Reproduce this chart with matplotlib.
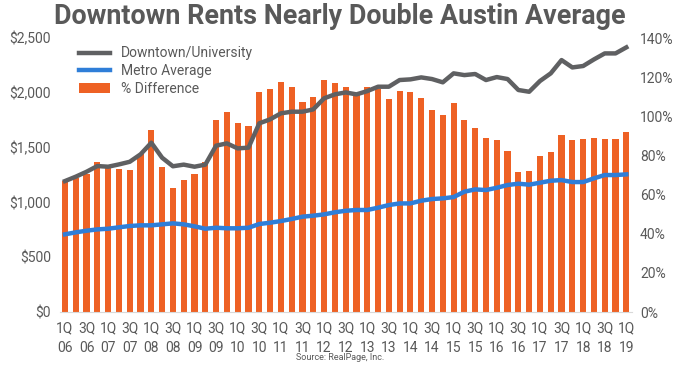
import numpy as np
import matplotlib
matplotlib.use("Agg")
import matplotlib.pyplot as plt
from matplotlib.ticker import FuncFormatter

plt.rcParams['font.family'] = ['Roboto', 'DejaVu Sans']

# quarters 1Q06 .. 1Q19
years = list(range(6, 20))
quarters = [f"{q}Q {y:02d}" for y in years for q in (1, 2, 3, 4)][:53]

downtown = [1195, 1235, 1280, 1332, 1326, 1347, 1371, 1439, 1545, 1408,
            1330, 1345, 1326, 1345, 1518, 1539, 1493, 1500, 1722, 1758,
            1813, 1828, 1828, 1849, 1950, 1986, 2004, 1986, 2016, 2056,
            2056, 2117, 2123, 2141, 2126, 2096, 2178, 2162, 2172, 2117,
            2144, 2126, 2026, 2010, 2108, 2178, 2299, 2232, 2245, 2305,
            2360, 2360, 2415]
metro = [709, 727, 742, 754, 760, 773, 785, 791, 791, 800,
         809, 800, 782, 760, 769, 764, 764, 769, 803, 815,
         830, 849, 870, 879, 891, 910, 924, 931, 931, 952,
         976, 991, 991, 1016, 1031, 1037, 1049, 1098, 1119, 1113,
         1134, 1159, 1171, 1162, 1180, 1198, 1204, 1186, 1186, 1220,
         1250, 1250, 1256]
pct_diff = [67.1, 68.6, 70.4, 76.6, 74.3, 72.9, 72.4, 80.6, 92.8, 74.1,
            63.2, 67.4, 70.5, 76.8, 98.1, 102.2, 96.4, 95.0, 112.6, 114.1,
            117.5, 114.8, 107.3, 109.9, 118.5, 116.8, 115.1, 111.6, 114.8, 113.8,
            108.8, 112.9, 112.2, 109.2, 103.1, 100.7, 106.6, 98.3, 94.0, 88.9,
            88.1, 82.1, 71.7, 72.0, 79.5, 81.8, 90.4, 87.9, 88.4, 88.9,
            88.4, 88.6, 92.0]

text_col = '#595959'
orange = '#EE6124'
gray = '#5F6062'
blue = '#2F7ED8'

x = np.arange(len(downtown))

fig = plt.figure(figsize=(6.8, 3.66), dpi=100)
ax = fig.add_axes([0.0876, 0.1475, 0.8414, 0.7485])
ax2 = ax.twinx()

bars = ax2.bar(x, pct_diff, width=0.57, color=orange, label='% Difference')
l1, = ax.plot(x, downtown, color=gray, lw=3.2, label='Downtown/University')
l2, = ax.plot(x, metro, color=blue, lw=3.2, label='Metro Average')

ax.set_zorder(ax2.get_zorder() + 1)
ax.patch.set_visible(False)

ax.set_xlim(-0.5, len(x) - 0.5)
ax.set_ylim(0, 2500)
ax2.set_ylim(0, 140)
ax.set_yticks(np.arange(0, 2501, 500))
ax2.set_yticks(np.arange(0, 141, 20))
ax.yaxis.set_major_formatter(FuncFormatter(lambda v, p: f"${v:,.0f}"))
ax2.yaxis.set_major_formatter(FuncFormatter(lambda v, p: f"{v:.0f}%"))

ax.set_xticks(x[::2])
ax.set_xticklabels([q.replace(' ', '\n') for q in quarters[::2]])

for a in (ax, ax2):
    for s in a.spines.values():
        s.set_visible(False)
    a.tick_params(length=0, labelsize=10, labelcolor=text_col)
ax.spines['bottom'].set_visible(True)
ax.spines['bottom'].set_color('#D9D9D9')
ax.tick_params(axis='y', pad=6)
ax2.tick_params(axis='y', pad=6)
ax.tick_params(axis='x', pad=7)
for t in ax.get_xticklabels():
    t.set_linespacing(1.5)

leg = ax.legend(handles=[l1, l2, bars], loc='upper left', bbox_to_anchor=(0.02, 1.0),
                frameon=False, fontsize=10, handlelength=2.2, labelspacing=0.28,
                borderaxespad=0.2)
for t in leg.get_texts():
    t.set_color(text_col)

fig.text(0.5, 0.955, 'Downtown Rents Nearly Double Austin Average', ha='center', va='center',
         fontsize=19.4, fontweight='bold', color=text_col)
fig.text(0.5, 0.022, 'Source: RealPage, Inc.', ha='center', va='center',
         fontsize=6.5, color=text_col)

fig.savefig('out.png', dpi=100)
